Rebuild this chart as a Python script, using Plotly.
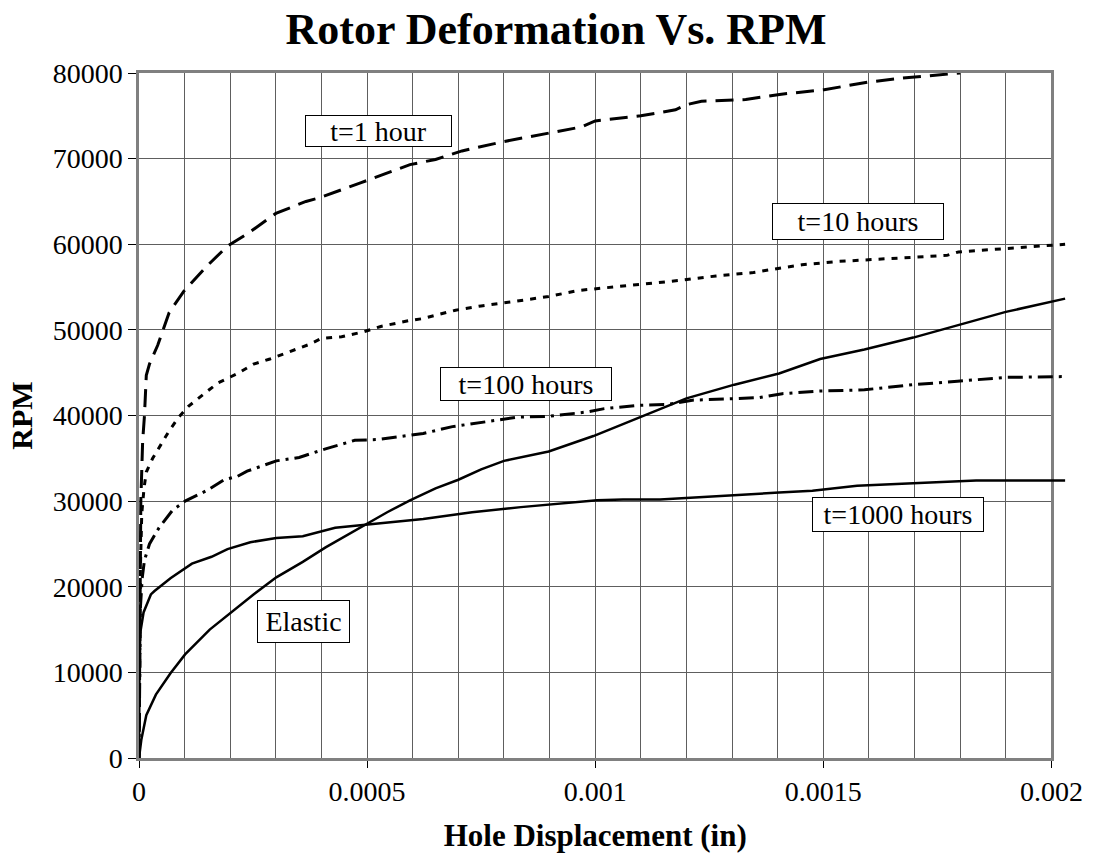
import plotly.graph_objects as go

# Hole displacement (in) vs rotor speed (RPM) for each creep time
t1h_x = [0, 4e-6, 8e-6, 1.2e-5, 1.6e-5, 2.3e-5, 4.1e-5, 6.6e-5, 7.6e-5, 9.8e-5,
         1.48e-4, 1.94e-4, 2.37e-4, 3.0e-4, 3.66e-4, 3.94e-4, 4.87e-4, 5.94e-4,
         6.5e-4, 7.08e-4, 8.0e-4, 9.0e-4, 9.7e-4, 1.0e-3, 1.1e-3, 1.176e-3,
         1.2e-3, 1.233e-3, 1.33e-3, 1.404e-3, 1.502e-3, 1.6e-3, 1.673e-3, 1.8e-3]
t1h_y = [0, 30000, 37000, 40000, 44700, 46000, 48200, 52000, 52800, 54500,
         57400, 59800, 61200, 63600, 65000, 65400, 67200, 69300,
         69900, 70900, 72000, 73000, 73700, 74400, 75000, 75700,
         76300, 76700, 76900, 77500, 78050, 78950, 79400, 80000]

t10h_x = [0, 3e-6, 6e-6, 1.1e-5, 1.6e-5, 3.0e-5, 4.8e-5, 6.6e-5, 8.7e-5, 1.09e-4,
          1.44e-4, 1.73e-4, 2.16e-4, 2.51e-4, 2.87e-4, 3.16e-4, 3.73e-4, 4.0e-4,
          4.44e-4, 4.94e-4, 5.3e-4, 5.94e-4, 6.2e-4, 6.94e-4, 7.5e-4, 8.2e-4,
          8.98e-4, 9.63e-4, 1.10e-3, 1.19e-3, 1.265e-3, 1.347e-3, 1.404e-3,
          1.453e-3, 1.535e-3, 1.608e-3, 1.698e-3, 1.771e-3, 1.796e-3, 1.894e-3,
          2.03e-3]
t10h_y = [0, 22000, 28500, 31500, 33400, 35000, 36600, 38200, 39800, 41100,
          42600, 43800, 44900, 46000, 46600, 47200, 48300, 49000,
          49200, 49800, 50400, 51100, 51300, 52300, 52800, 53300,
          53900, 54600, 55300, 55800, 56300, 56700, 57200,
          57600, 58000, 58200, 58500, 58700, 59100, 59500,
          60000]

t100h_x = [0, 3e-6, 7e-6, 1.2e-5, 2.3e-5, 4.4e-5, 7.3e-5, 1.01e-4, 1.51e-4, 1.87e-4,
           2.16e-4, 2.37e-4, 3.01e-4, 3.51e-4, 4.09e-4, 4.73e-4, 5.23e-4, 5.87e-4,
           6.23e-4, 6.87e-4, 7.66e-4, 8.3e-4, 8.98e-4, 9.8e-4, 1.02e-3, 1.10e-3,
           1.16e-3, 1.216e-3, 1.297e-3, 1.36e-3, 1.41e-3, 1.49e-3, 1.59e-3,
           1.697e-3, 1.794e-3, 1.835e-3, 1.9e-3, 2.03e-3]
t100h_y = [0, 17500, 21000, 23100, 25000, 26900, 28900, 30000, 31300, 32500,
           32900, 33500, 34700, 35100, 36100, 37100, 37200, 37700,
           37900, 38700, 39300, 39800, 39900, 40400, 40800, 41200,
           41300, 41800, 41950, 42100, 42550, 42850, 43000,
           43600, 44000, 44200, 44450, 44550]

t1000h_x = [0, 1.5e-6, 1.0e-5, 2.6e-5, 3.4e-5, 6.9e-5, 1.16e-4, 1.59e-4, 1.94e-4,
            2.44e-4, 3.01e-4, 3.59e-4, 4.3e-4, 5.34e-4, 6.23e-4, 7.3e-4, 8.37e-4,
            1.004e-3, 1.061e-3, 1.142e-3, 1.232e-3, 1.305e-3, 1.403e-3, 1.476e-3,
            1.574e-3, 1.697e-3, 1.835e-3, 2.03e-3]
t1000h_y = [0, 14200, 17000, 19100, 19500, 21000, 22700, 23500, 24400,
            25200, 25700, 25900, 26900, 27400, 27900, 28700, 29300,
            30100, 30200, 30200, 30500, 30700, 31000, 31200,
            31800, 32100, 32400, 32400]

elastic_x = [0, 5e-6, 1.6e-5, 3.7e-5, 6.9e-5, 1.01e-4, 1.55e-4, 2.01e-4, 2.51e-4,
             3.01e-4, 3.59e-4, 4.09e-4, 4.51e-4, 4.94e-4, 5.44e-4, 5.94e-4, 6.5e-4,
             7.0e-4, 7.5e-4, 8.0e-4, 8.98e-4, 9.96e-4, 1.10e-3, 1.134e-3, 1.2e-3,
             1.305e-3, 1.403e-3, 1.493e-3, 1.59e-3, 1.697e-3, 1.794e-3, 1.9e-3,
             2.03e-3]
elastic_y = [0, 2100, 5000, 7400, 9900, 12100, 15000, 17000, 19100,
             21100, 22900, 24600, 25900, 27200, 28700, 30100, 31500,
             32500, 33700, 34700, 35800, 37600, 39800, 40600, 42000,
             43600, 44900, 46600, 47700, 49100, 50500, 52100,
             53650]

x_tick_vals = [0, 0.0005, 0.001, 0.0015, 0.002]
x_tick_text = ["0", "0.0005", "0.001", "0.0015", "0.002"]

series_names = ["t=1 hour", "t=10 hours", "t=100 hours", "t=1000 hours", "Elastic"]

FONT = "Liberation Serif"
GRID = "#5e5e5e"

# plot area: 139..1075 px wide; the curve subplot runs a little past the frame
L_MARGIN, R_MARGIN = 139, 20
plot_w = 1112 - L_MARGIN - R_MARGIN
frame_w = 936
x_max = 0.002
frac = frame_w / plot_w

styles = [
    dict(width=3, dash="18px,9px"),
    dict(width=3, dash="6px,7px"),
    dict(width=3, dash="15px,6px,3px,6px"),
    dict(width=2.5, dash="solid"),
    dict(width=2.5, dash="solid"),
]
xs = [t1h_x, t10h_x, t100h_x, t1000h_x, elastic_x]
ys = [t1h_y, t10h_y, t100h_y, t1000h_y, elastic_y]

fig = go.Figure()
for name, x, y, st in zip(series_names, xs, ys, styles):
    fig.add_trace(go.Scatter(
        x=x, y=y, name=name, mode="lines",
        line=dict(color="black", width=st["width"], dash=st["dash"]),
        xaxis="x2", yaxis="y2", showlegend=False,
    ))

# boxed curve labels: (x, y) centre in data units, box size in px
label_pos = {
    "t=1 hour": (5.25e-4, 73240, 145, 30),
    "t=10 hours": (1.5766e-3, 62700, 170, 35),
    "t=100 hours": (8.49e-4, 43670, 170, 32),
    "t=1000 hours": (1.6626e-3, 28430, 170, 33),
    "Elastic": (3.6e-4, 15910, 91, 41),
}
for name in series_names:
    lx, ly, bw, bh = label_pos[name]
    fig.add_annotation(
        x=lx, y=ly, xref="x", yref="y", text=name, showarrow=False,
        font=dict(family=FONT, size=28, color="black"),
        bgcolor="white", bordercolor="black", borderwidth=1, borderpad=0,
        width=bw, height=bh, xanchor="center", yanchor="middle",
    )

axis_common = dict(
    showline=True, linecolor="#808080", linewidth=2.5, mirror=True,
    showgrid=True, gridcolor=GRID, gridwidth=1, zeroline=False,
    ticks="outside", tickcolor="black", tickwidth=1,
    tickfont=dict(family=FONT, size=28, color="black"),
)

fig.update_layout(
    width=1112, height=859,
    margin=dict(l=L_MARGIN, r=R_MARGIN, t=73, b=97),
    paper_bgcolor="white", plot_bgcolor="rgba(0,0,0,0)",
    title=dict(text="<b>Rotor Deformation Vs. RPM</b>", x=0.5, xref="container",
               y=1 - 29 / 859, yref="container", yanchor="middle", xanchor="center",
               font=dict(family=FONT, size=44, color="black")),
    xaxis=dict(domain=[0, frac], range=[0, x_max], tickmode="array",
               tickvals=x_tick_vals, ticktext=x_tick_text, ticklen=7,
               minor=dict(tickmode="linear", tick0=0, dtick=0.0001, showgrid=True,
                          gridcolor=GRID, gridwidth=1, ticks=""),
               title=dict(text="<b>Hole Displacement (in)</b>", standoff=18,
                          font=dict(family=FONT, size=31, color="black")),
               anchor="y", **axis_common),
    yaxis=dict(range=[0, 80000], dtick=10000, tickformat="d", ticklen=8,
               title=dict(text="<b>RPM</b>", standoff=12,
                          font=dict(family=FONT, size=30, color="black")),
               anchor="x", **axis_common),
    xaxis2=dict(domain=[0, 1], range=[0, x_max / frac], visible=False,
                showgrid=False, zeroline=False, anchor="y2"),
    yaxis2=dict(domain=[0, 1], range=[0, 80000], visible=False,
                showgrid=False, zeroline=False, anchor="x2"),
)

fig.write_html("out.html")
